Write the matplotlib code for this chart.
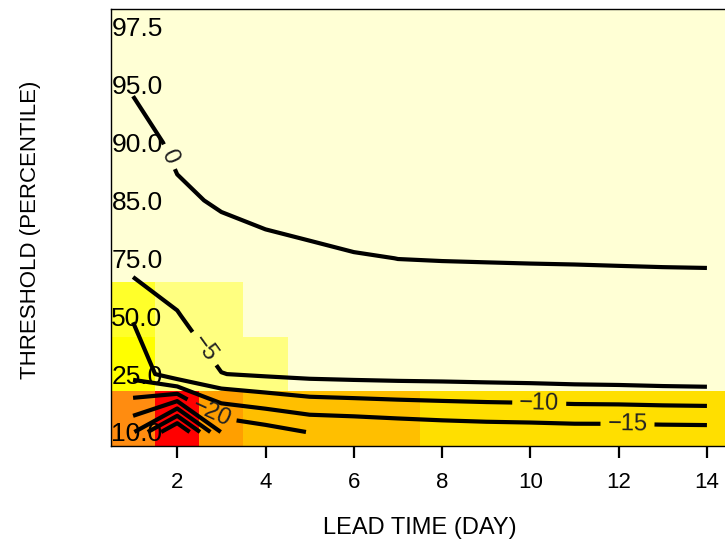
import numpy as np
import matplotlib
matplotlib.use("Agg")
import matplotlib.pyplot as plt
from matplotlib.colors import ListedColormap, BoundaryNorm

plt.rcParams['font.family'] = ['Liberation Sans', 'DejaVu Sans']

lead_days = np.arange(1, 15)
threshold_labels = ["10.0", "25.0", "50.0", "75.0", "85.0", "90.0", "95.0", "97.5"]
x_ticks = [2, 4, 6, 8, 10, 12, 14]

# field used for the contour lines, rows = thresholds (bottom->top), cols = lead day
skill_rows = [
    [-29.5, -46.0, -24.7, -22.2, -19.8, -19.3, -18.6, -18.0, -17.6, -17.4, -17.1, -17.1, -16.9, -16.8],
    [-13.4, -6.6, -5.1, -4.3, -3.7, -3.4, -3.2, -3.1, -2.9, -2.7, -2.4, -2.2, -1.9, -1.7],
    [-9.6, -5.3, -2.0, -1.5, -1.2, -1.0, -0.8, -1.0, -1.0, -1.0, -1.0, -1.0, -1.0, -1.0],
    [-2.8, -2.3, -0.8, -0.5, -0.35, -0.12, 0.01, 0.05, 0.075, 0.10, 0.12, 0.15, 0.18, 0.20],
    [-2.0, -0.31, 0.2, 0.5, 0.8, 1.0, 1.0, 0.6, 0.6, 0.6, 0.6, 0.6, 0.6, 0.6],
    [-0.8, 0.38, 0.8, 1.0, 1.0, 1.0, 1.0, 1.0, 1.0, 1.0, 1.0, 1.0, 1.0, 1.0],
    [0.2, 1.0, 1.2, 1.2, 1.2, 1.2, 1.2, 1.2, 1.2, 1.2, 1.2, 1.2, 1.2, 1.2],
    [0.5, 1.2, 1.4, 1.4, 1.4, 1.4, 1.4, 1.4, 1.4, 1.4, 1.4, 1.4, 1.4, 1.4],
]
inner_levels = [-40, -35, -30, -25]
labelled_levels = [-20, -15, -10, -5, 0]
label_spots = [(2.7, 1.24), (12.2, 1.12), (10.2, 1.47), (2.58, 2.42), (1.81, 5.75)]

# colour class of each cell (index into heat palette, 0 = red ... 11 = cream)
cell_rows = [
    [4, 0, 5, 6, 6, 6, 6, 7, 7, 7, 7, 7, 7, 7],
    [8, 10, 10, 10, 11, 11, 11, 11, 11, 11, 11, 11, 11, 11],
    [9, 10, 10, 11, 11, 11, 11, 11, 11, 11, 11, 11, 11, 11],
    [11] * 14,
    [11] * 14,
    [11] * 14,
    [11] * 14,
    [11] * 14,
]
heat_palette = ['#FF0000', '#FF2000', '#FF4000', '#FF6000', '#FF8C10', '#FF9F00',
                '#FFBF00', '#FFDF00', '#FFFF00', '#FFFF2A', '#FFFF80', '#FFFFD5']

skill = np.array(skill_rows)
cells = np.array(cell_rows)
y_rows = np.arange(1, len(threshold_labels) + 1)

fig = plt.figure(figsize=(7.25, 5.42), dpi=100)
ax = fig.add_axes([111 / 725, 96 / 542, 618 / 725, 437 / 542])

y_lo, y_hi = 0.758, 8.306
x_edges = np.arange(0.5, len(lead_days) + 1)
y_edges = np.linspace(y_lo, y_hi, len(threshold_labels) + 1)
cmap = ListedColormap(heat_palette)
norm = BoundaryNorm(np.arange(-0.5, len(heat_palette)), len(heat_palette))
ax.pcolormesh(x_edges, y_edges, cells, cmap=cmap, norm=norm, shading='flat')

ax.contour(lead_days, y_rows, skill, levels=inner_levels, colors='black',
           linewidths=3, linestyles='solid')
cs = ax.contour(lead_days, y_rows, skill, levels=labelled_levels,
                colors='black', linewidths=3, linestyles='solid')
ax.clabel(cs, inline=True, inline_spacing=7, fontsize=17, colors='#222222',
          fmt=lambda v: f"{v:.0f}".replace("-", "\u2212"), manual=label_spots)

ax.set_xlim(0.5, 14.5)
ax.set_ylim(y_lo, y_hi)
ax.set_xticks(x_ticks)
ax.set_xticklabels([str(t) for t in x_ticks])
ax.tick_params(axis='x', length=8.5, width=1.6, pad=10, labelsize=16)
ax.set_yticks(y_rows)
ax.set_yticklabels(threshold_labels, ha='left')
ax.tick_params(axis='y', length=0, pad=-0.3, labelsize=19)
for s in ax.spines.values():
    s.set_linewidth(1.0)

fig.text(420 / 725, 1 - 528 / 542, "LEAD TIME (DAY)", ha='center', va='center', fontsize=17)
fig.text(31 / 725, 1 - 230 / 542, "THRESHOLD (PERCENTILE)", ha='center', va='center',
         rotation=90, fontsize=16)

fig.savefig("out.png", dpi=100)
